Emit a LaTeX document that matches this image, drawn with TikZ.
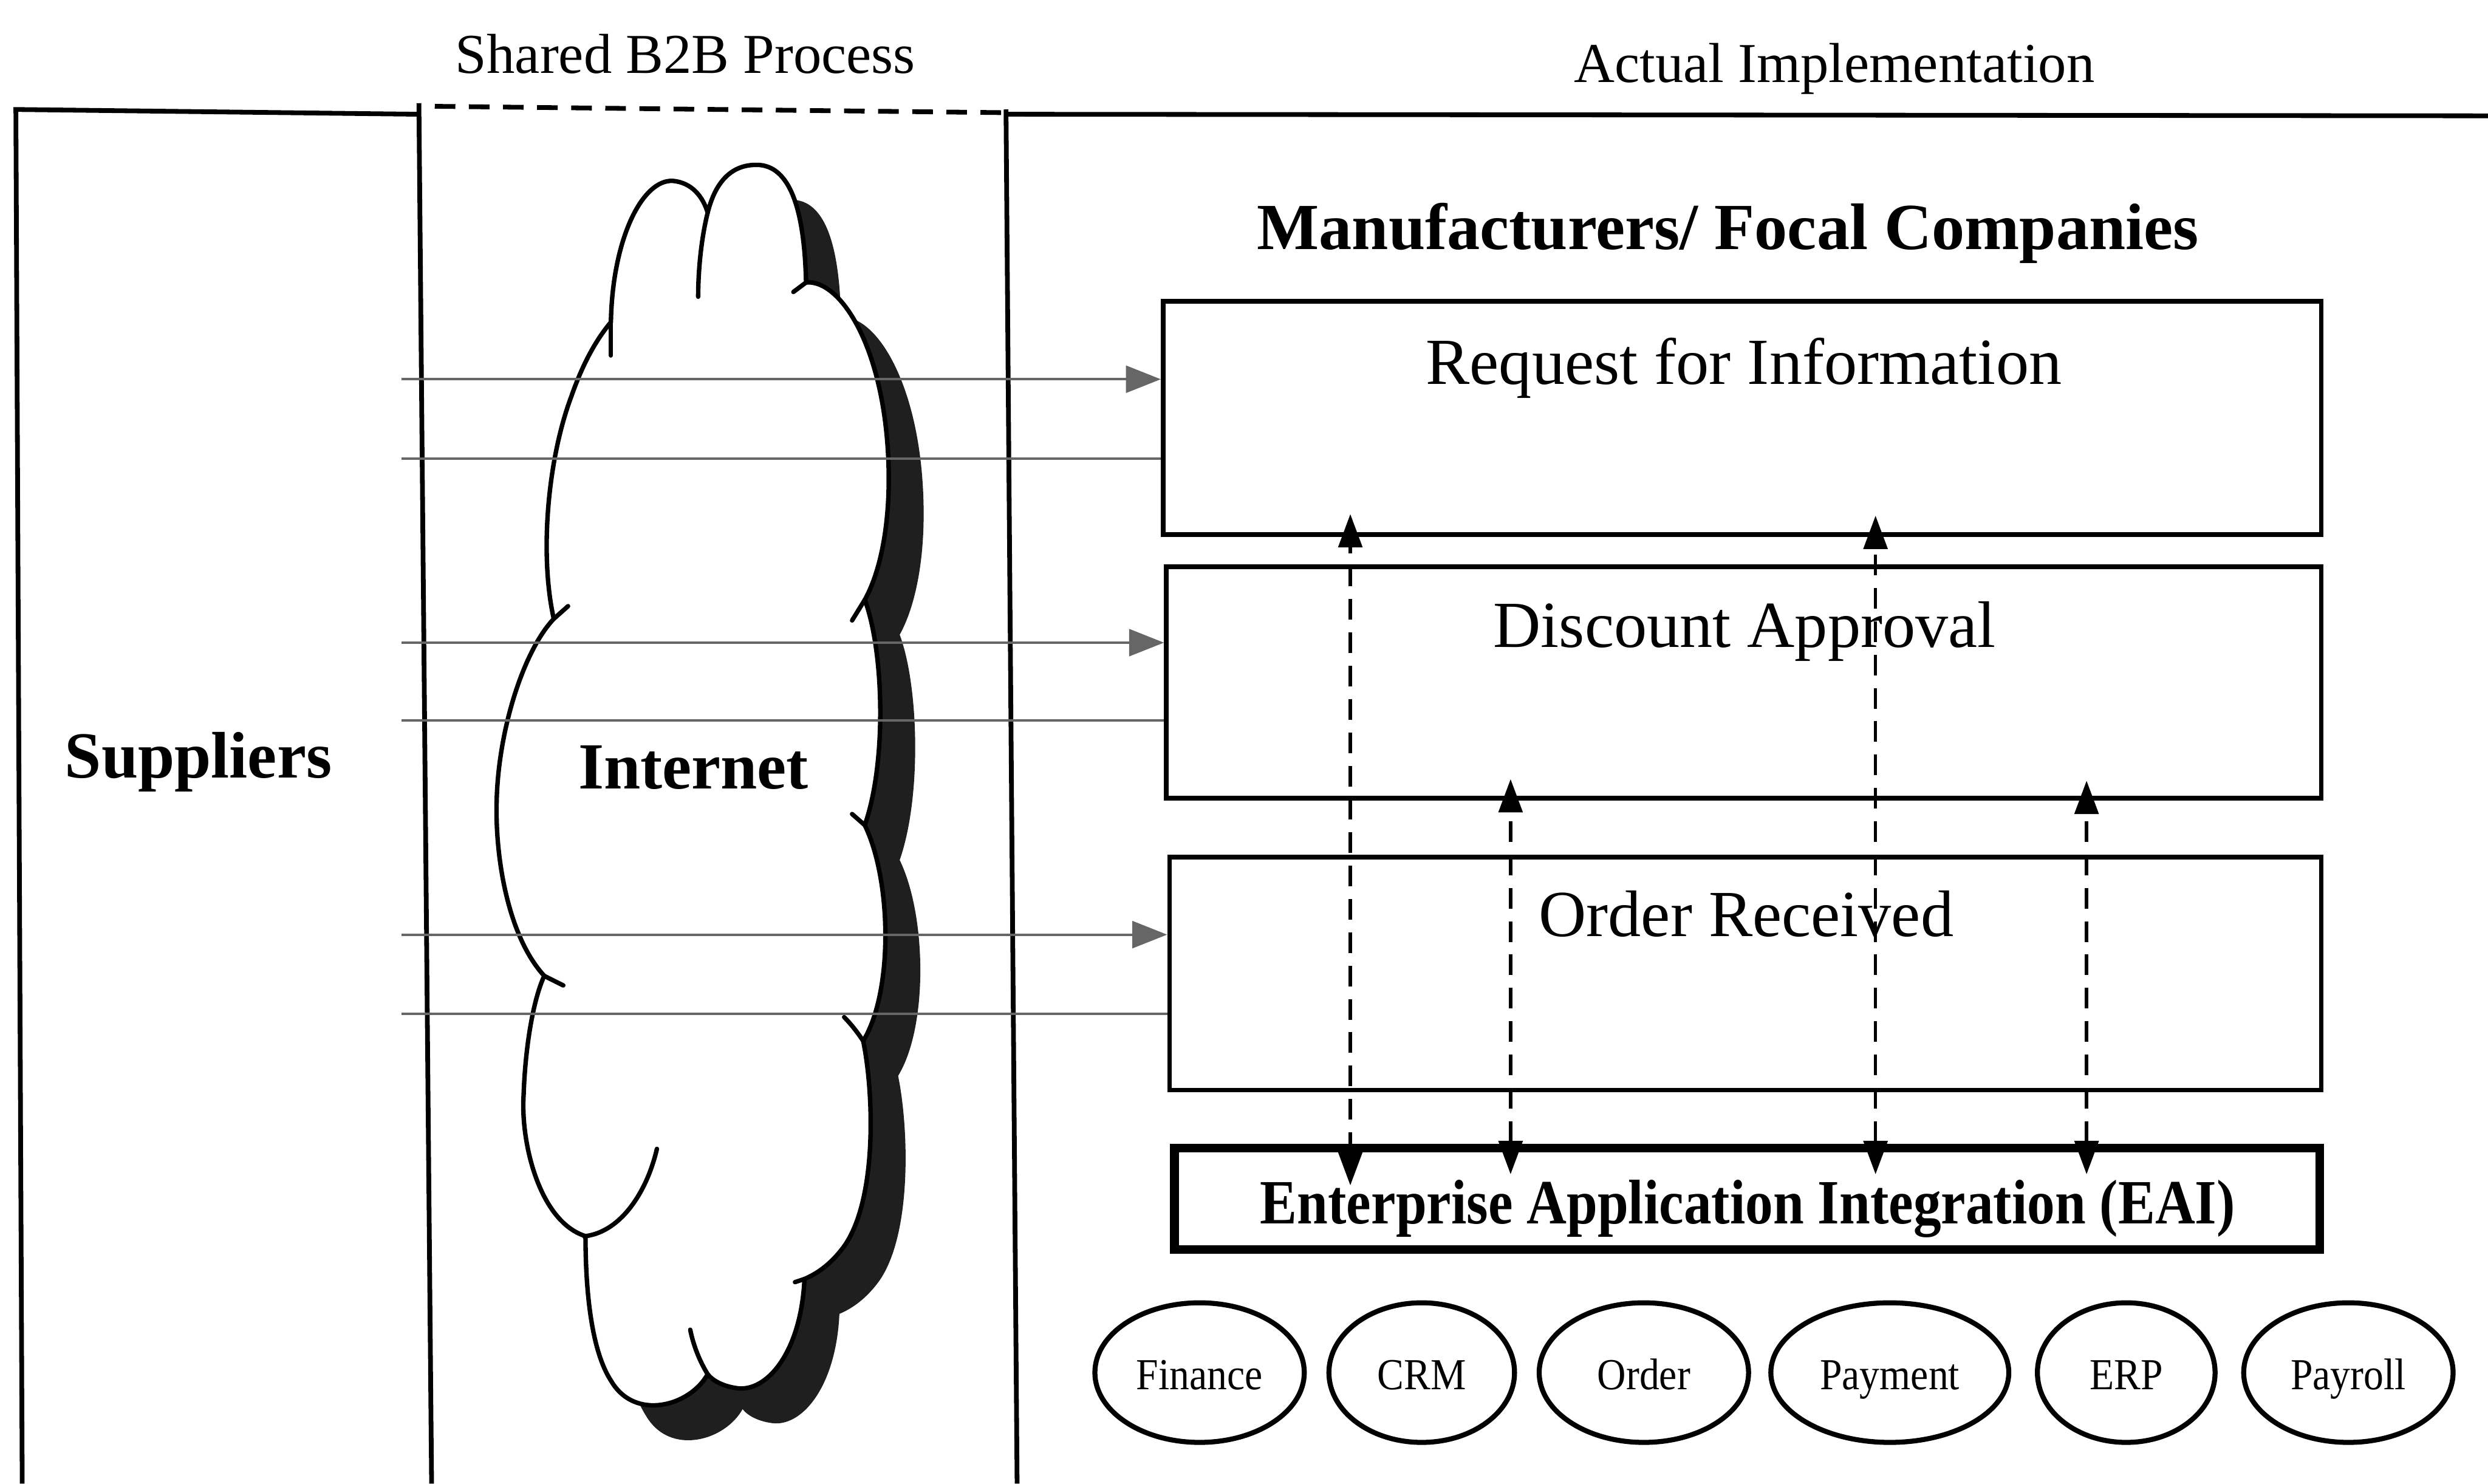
\documentclass[tikz,border=0pt]{standalone}
\usepackage{fontspec}
\setmainfont{Liberation Serif}
\usetikzlibrary{arrows.meta,shapes.geometric}
\definecolor{hgray}{gray}{0.40}
\newcommand\fsBig{\fontsize{23.6pt}{28pt}\selectfont}
\newcommand\fsMid{\fontsize{20.2pt}{24pt}\selectfont}
\newcommand\fsEAI{\fontsize{22.6pt}{26pt}\selectfont}
\newcommand\fsSm{\fontsize{15.9pt}{19pt}\selectfont}
\tikzset{
  panel/.style={line width=1.7pt},
  procbox/.style={draw, rectangle, line width=1.7pt, inner sep=0pt},
  eaibox/.style={draw, rectangle, line width=3.2pt, inner sep=0pt},
  appell/.style={ellipse, draw, line width=1.8pt, minimum height=1.76cm, inner sep=0pt,
     font=\fsSm, text height=14pt, text depth=2pt},
  hline/.style={draw=hgray, line width=0.9pt},
  harrow/.style={hline, -{Triangle[length=0.44cm, width=0.34cm]}},
  darrow/.style={line width=1.2pt, dash pattern=on 0.26cm off 0.16cm,
     {Triangle[length=0.42cm, width=0.3cm]}-{Triangle[length=0.42cm, width=0.3cm]}},
  cloudline/.style={line width=1.6pt, line cap=round, line join=round},
  cloudshape/.style={insert path={
    (385,203) .. controls (386,150) and (405,113) .. (424,114)
              .. controls (436,115) and (443,124) .. (446,134)
              .. controls (452,110) and (465,103) .. (479,104)
              .. controls (499,106) and (507,135) .. (508,178)
              .. controls (530,176) and (558,220) .. (560,294)
              .. controls (561,330) and (555,360) .. (545,378)
              .. controls (557,410) and (559,480) .. (545,520)
              .. controls (562,555) and (563,625) .. (544,656)
              .. controls (551,690) and (553,760) .. (530,788)
              .. controls (522,798) and (514,803) .. (507,806)
              .. controls (505,850) and (485,876) .. (466,875)
              .. controls (456,874) and (449,870) .. (446,866)
              .. controls (435,886) and (400,896) .. (385,870)
              .. controls (372,850) and (369,810) .. (369,779)
              .. controls (340,770) and (328,720) .. (330,690)
              .. controls (331,660) and (336,630) .. (343,615)
              .. controls (320,590) and (312,540) .. (313,505)
              .. controls (314,460) and (330,410) .. (349,390)
              .. controls (340,350) and (345,290) .. (360,250)
              .. controls (367,230) and (375,215) .. (385,203)
    -- cycle}}
}
\begin{document}
\begin{tikzpicture}[x=0.02cm, y=-0.02cm]
\useasboundingbox (0,0) rectangle (1568,935);

% panels
\draw[panel] (14,935) -- (10,69) -- (263,72);
\draw[panel] (264,65) -- (272,935);
\draw[panel, dash pattern=on 0.26cm off 0.17cm] (274,67) -- (632,71);
\draw[panel] (634,69) -- (641,935);
\draw[panel] (634,72) -- (1568,73);

% cloud
\begin{scope}[shift={(22,22)}]
  \path[fill=black!88, cloudshape];
\end{scope}
\path[fill=white, draw=black, cloudline, cloudshape];
% interior lobe ends
\draw[cloudline] (385,203) -- (385,224);
\draw[cloudline] (446,134) .. controls (442,150) and (440,170) .. (440,187);
\draw[cloudline] (508,178) -- (500,184);
\draw[cloudline] (545,378) -- (537,391);
\draw[cloudline] (545,520) -- (537,513);
\draw[cloudline] (544,656) .. controls (540,650) and (536,645) .. (532,641);
\draw[cloudline] (507,806) -- (501,808);
\draw[cloudline] (446,866) .. controls (441,858) and (437,848) .. (435,838);
\draw[cloudline] (369,779) .. controls (392,776) and (408,750) .. (414,724);
\draw[cloudline] (343,615) -- (355,621);
\draw[cloudline] (349,390) -- (358,382);

% headings
\node[anchor=base, font=\fsMid] (tshared) at (432,46) {Shared B2B Process};
\node[anchor=base, font=\fsMid] (tactual) at (1156,52) {Actual Implementation};
\node[anchor=base, font=\fsBig\bfseries] (tmanu) at (1089,157) {Manufacturers/ Focal Companies};
\node[anchor=base, font=\fsBig\bfseries] (tsup) at (125,490) {Suppliers};
\node[anchor=base, font=\fsBig\bfseries] (tnet) at (437,497) {Internet};

% process boxes
\node[procbox, minimum width=14.6cm, minimum height=2.94cm] (box1) at (1098,263.5) {};
\node[procbox, minimum width=14.56cm, minimum height=2.92cm] (box2) at (1099,430) {};
\node[procbox, minimum width=14.52cm, minimum height=2.94cm] (box3) at (1100,613.5) {};
\node[eaibox, minimum width=14.44cm, minimum height=1.28cm] (eai) at (1101,755.5) {};
\node[anchor=base, font=\fsBig] (t1) at (1099,242) {Request for Information};
\node[anchor=base, font=\fsBig] (t2) at (1099.5,408) {Discount Approval};
\node[anchor=base, font=\fsBig] (t3) at (1100.5,590) {Order Received};
\node[anchor=base, font=\fsEAI\bfseries] (t4) at (1101.5,771) {\scalebox{0.88}[1]{Enterprise Application Integration (EAI)}};

% internet connectors
\coordinate (h1) at (253,239);
\coordinate (h2) at (253,289);
\coordinate (h3) at (253,405);
\coordinate (h4) at (253,454);
\coordinate (h5) at (253,589);
\coordinate (h6) at (253,639);
\draw[harrow] (h1) -- (h1 -| box1.west);
\draw[hline] (h2) -- (h2 -| box1.west);
\draw[harrow] (h3) -- (h3 -| box2.west);
\draw[hline] (h4) -- (h4 -| box2.west);
\draw[harrow] (h5) -- (h5 -| box3.west);
\draw[hline] (h6) -- (h6 -| box3.west);

% applications
\node[appell, minimum width=2.64cm] (fin) at (756,865) {\scalebox{0.9}[1]{Finance}};
\node[appell, minimum width=2.34cm] (crm) at (896,865) {\scalebox{0.9}[1]{CRM}};
\node[appell, minimum width=2.64cm] (ord) at (1036,865) {\scalebox{0.9}[1]{Order}};
\node[appell, minimum width=3.0cm] (pay) at (1191,865) {\scalebox{0.9}[1]{Payment}};
\node[appell, minimum width=2.24cm] (erp) at (1340,865) {\scalebox{0.9}[1]{ERP}};
\node[appell, minimum width=2.64cm] (prl) at (1480,865) {\scalebox{0.9}[1]{Payroll}};

% EAI links
\coordinate (d1b) at (851,747);
\coordinate (d1t) at (851,324);
\coordinate (d2b) at (952,740);
\coordinate (d2t) at (952,491);
\coordinate (d3b) at (1182,740);
\coordinate (d3t) at (1182,325);
\coordinate (d4b) at (1315,740);
\coordinate (d4t) at (1315,492);
\draw[darrow] (d1b) -- (d1t);
\draw[darrow] (d2b) -- (d2t);
\draw[darrow] (d3b) -- (d3t);
\draw[darrow] (d4b) -- (d4t);
\end{tikzpicture}
\end{document}
